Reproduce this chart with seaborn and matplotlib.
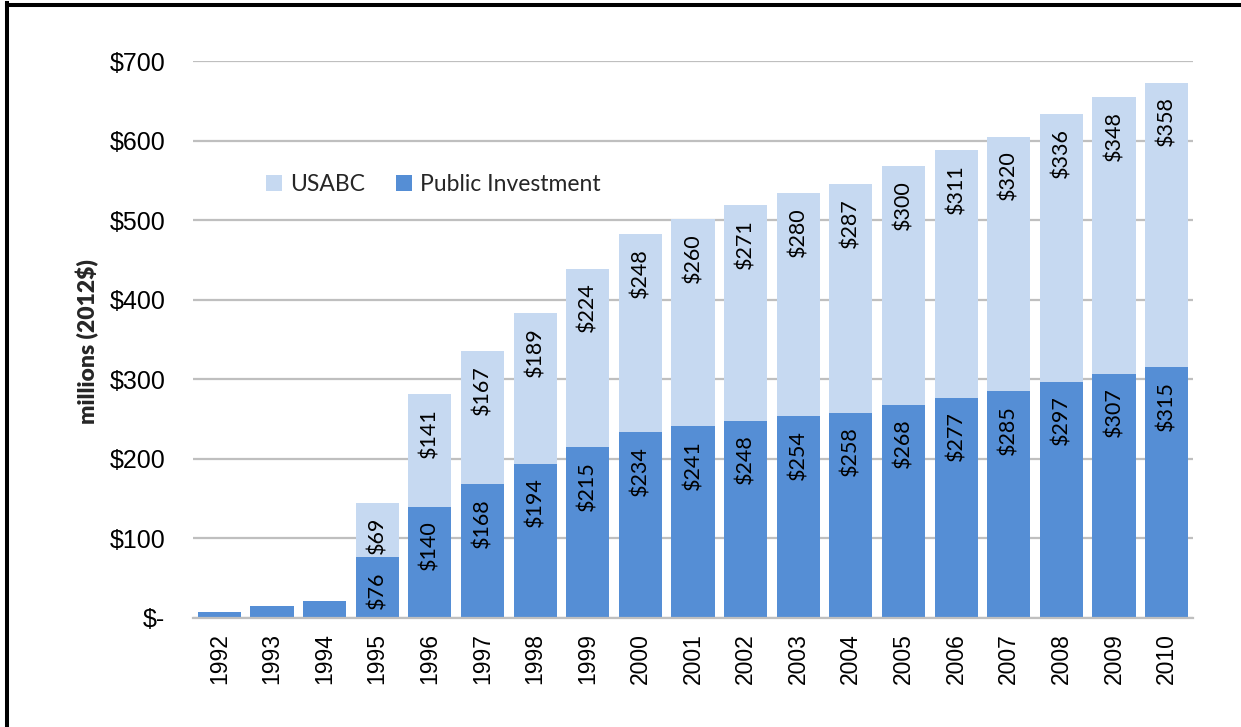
import matplotlib
matplotlib.use("Agg")
import matplotlib.pyplot as plt
from matplotlib.lines import Line2D
from matplotlib.ticker import FuncFormatter
import seaborn as sns
import pandas as pd

# Cumulative battery R&D investment, millions of 2012 dollars
years = [str(y) for y in range(1992, 2011)]
public_investment = [8, 15, 21, 76, 140, 168, 194, 215, 234, 241, 248, 254,
                     258, 268, 277, 285, 297, 307, 315]
usabc = [0, 0, 0, 69, 141, 167, 189, 224, 248, 260, 271, 280,
         287, 300, 311, 320, 336, 348, 358]

LIGHT = "#C6D9F1"
DARK = "#558ED5"
GRID = "#BFBFBF"

sns.set_theme(style="white")
plt.rcParams["font.family"] = ["Liberation Sans", "DejaVu Sans"]

df = pd.DataFrame({"year": years, "public": public_investment, "usabc": usabc})
df["total"] = df["public"] + df["usabc"]

fig = plt.figure(figsize=(12.41, 7.27), dpi=100)
ax = fig.add_axes([0.1555, 0.150, 0.8058, 0.766])

sns.barplot(data=df, x="year", y="total", color=LIGHT, width=0.82,
            saturation=1, label="USABC", ax=ax, zorder=2,
            linewidth=0, edgecolor="none")
sns.barplot(data=df, x="year", y="public", color=DARK, width=0.82,
            saturation=1, label="Public Investment", ax=ax, zorder=3,
            linewidth=0, edgecolor="none")

ax.set_ylim(0, 700)
ax.set_yticks(range(0, 701, 100))
ax.yaxis.set_major_formatter(FuncFormatter(lambda v, p: "$-" if v == 0 else f"${int(v)}"))
ax.grid(axis="y", color=GRID, linewidth=1.6, zorder=0)
ax.set_axisbelow(True)
for side in ("top", "right", "left"):
    ax.spines[side].set_visible(False)
ax.spines["bottom"].set_color(GRID)
ax.spines["bottom"].set_linewidth(1.6)
ax.spines["bottom"].set_zorder(4)
ax.tick_params(axis="y", length=0, labelsize=18, pad=20, colors="black")
ax.tick_params(axis="x", length=0, labelsize=16.5, pad=11, colors="black")
plt.setp(ax.get_xticklabels(), rotation=90)
ax.set_xlabel("")
ax.set_ylabel("millions (2012$)", fontsize=16.5, fontweight="heavy",
              family=["Lato", "DejaVu Sans"])
ax.yaxis.set_label_coords(-0.094, 0.497)

# Value labels inside the top of each segment
label_font = dict(fontsize=15.5, family=["Lato", "DejaVu Sans"], color="black")
for i, (pub, us) in enumerate(zip(public_investment, usabc)):
    if us > 0:
        ax.annotate(f"${pub}", (i, pub), xytext=(0, -10), textcoords="offset points",
                    rotation=90, ha="center", va="top", zorder=5, **label_font)
        ax.annotate(f"${us}", (i, pub + us), xytext=(0, -10), textcoords="offset points",
                    rotation=90, ha="center", va="top", zorder=5, **label_font)

leg = ax.legend(loc="center left", bbox_to_anchor=(0.1975, 0.746),
                bbox_transform=fig.transFigure, ncol=2, frameon=False,
                handlelength=0.7, handleheight=0.7, handletextpad=0.35,
                columnspacing=1.35, prop={"family": ["Lato", "DejaVu Sans"], "size": 16.5})

# Frame lines on the left and top edges of the figure
fig.add_artist(Line2D([7 / 1241, 7 / 1241], [0, 1 - 3 / 727], transform=fig.transFigure,
                      color="black", linewidth=2.9, solid_capstyle="projecting"))
fig.add_artist(Line2D([7 / 1241, 1], [1 - 5 / 727, 1 - 5 / 727], transform=fig.transFigure,
                      color="black", linewidth=2.9, solid_capstyle="projecting"))

fig.savefig("out.png", dpi=100)
